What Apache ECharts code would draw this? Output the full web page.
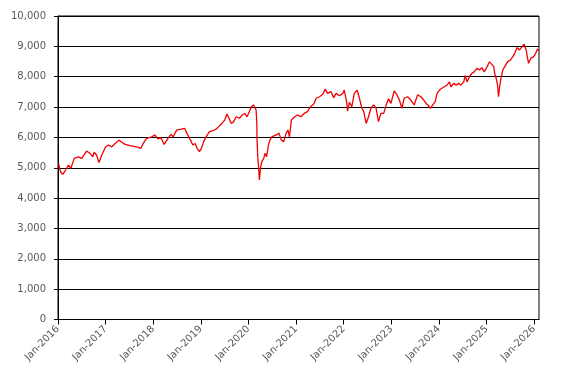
<!DOCTYPE html>
<html><head><meta charset="utf-8">
<script src="https://cdn.jsdelivr.net/npm/echarts@6/dist/echarts.min.js"></script>
<style>html,body{margin:0;padding:0;background:#fff}#c{width:567px;height:383px}</style>
</head><body><div id="c"></div>
<script>
// decimal-year dates and values
const years = [2016.01,2016.04,2016.06,2016.10,2016.15,2016.22,2016.27,2016.34,2016.43,2016.50,2016.60,2016.67,2016.73,2016.76,2016.81,2016.86,2016.92,
2017.00,2017.06,2017.13,2017.20,2017.28,2017.34,2017.41,2017.51,2017.65,2017.74,2017.79,2017.86,2017.97,
2018.03,2018.10,2018.16,2018.23,2018.31,2018.37,2018.42,2018.49,2018.52,2018.59,2018.66,2018.69,2018.76,2018.80,2018.83,2018.88,2018.92,2018.97,
2019.01,2019.06,2019.11,2019.18,2019.25,2019.32,2019.39,2019.44,2019.50,2019.55,2019.59,2019.64,2019.69,2019.74,2019.81,2019.87,2019.92,2019.97,
2020.02,2020.06,2020.11,2020.14,2020.16,2020.175,2020.18,2020.195,2020.215,2020.23,2020.25,2020.28,2020.32,2020.35,2020.38,2020.42,2020.45,2020.49,2020.53,2020.58,2020.64,2020.69,2020.74,2020.79,2020.83,2020.86,2020.90,2020.97,
2021.03,2021.10,2021.17,2021.24,2021.30,2021.37,2021.42,2021.49,2021.56,2021.61,2021.66,2021.73,2021.79,2021.84,2021.91,2021.98,
2022.01,2022.06,2022.08,2022.12,2022.17,2022.22,2022.28,2022.33,2022.38,2022.42,2022.47,2022.52,2022.57,2022.63,2022.68,2022.73,2022.78,2022.84,2022.89,2022.94,2022.99,
2023.06,2023.12,2023.17,2023.22,2023.27,2023.34,2023.41,2023.48,2023.52,2023.55,2023.62,2023.68,2023.73,2023.78,2023.82,2023.87,2023.92,2023.96,
2024.01,2024.06,2024.11,2024.17,2024.22,2024.25,2024.31,2024.36,2024.41,2024.46,2024.52,2024.55,2024.59,2024.64,2024.69,2024.74,2024.80,2024.85,2024.90,2024.95,
2025.01,2025.06,2025.10,2025.15,2025.17,2025.20,2025.23,2025.25,2025.27,2025.30,2025.34,2025.38,2025.44,2025.50,2025.55,2025.59,2025.64,2025.69,2025.73,2025.79,2025.83,2025.88,2025.93,2025.99,
2026.03,2026.07,2026.10];
const values = [5150,4950,4850,4780,4900,5090,4980,5310,5360,5310,5550,5475,5360,5510,5420,5170,5420,
5690,5750,5690,5800,5910,5840,5770,5730,5690,5640,5800,5970,6020,
6080,5950,5990,5770,5970,6100,6020,6240,6240,6270,6300,6190,5970,5860,5750,5800,5640,5530,
5640,5860,6020,6190,6220,6270,6380,6460,6570,6770,6630,6460,6520,6680,6630,6740,6790,6680,
6850,7010,7070,7120,6900,6460,5910,5360,4930,4600,4980,5200,5310,5480,5360,5750,5910,6020,5970,6080,6140,5910,5860,6140,6240,6020,6570,6680,
6740,6680,6790,6850,7010,7090,7290,7340,7420,7590,7450,7510,7310,7450,7370,7450,
7560,7180,6870,7160,7010,7450,7560,7290,6960,6850,6460,6680,6960,7070,6960,6520,6790,6790,7070,7270,7120,
7530,7400,7230,6960,7290,7340,7230,7070,7010,7400,7340,7230,7120,7050,6960,7070,7180,7450,
7560,7620,7670,7720,7830,7670,7780,7720,7780,7720,7830,8040,7830,8000,8110,8160,8280,8220,8300,8160,
8330,8490,8520,8330,8110,7950,7720,7340,7620,7950,8220,8330,8490,8550,8660,8770,8960,8880,8960,9070,8880,8440,8610,8660,
8770,8910,8840];
const tickYears = [2016,2017,2018,2019,2020,2021,2022,2023,2024,2025,2026];

const chart = echarts.init(document.getElementById('c'), null, {renderer:'canvas'});
const font = 'DejaVu Sans';
chart.setOption({
  animation:false,
  grid:{left:58,top:16,right:28,bottom:63.5,show:true,borderColor:'#000',borderWidth:1,backgroundColor:'transparent'},
  xAxis:{
    type:'value', min:2016, max:2026.10, interval:1,
    axisLine:{lineStyle:{color:'#000',width:1}},
    axisTick:{show:true,length:5,lineStyle:{color:'#000'},customValues:tickYears},
    axisLabel:{rotate:45,margin:8,color:'#595959',fontFamily:font,fontSize:10,customValues:tickYears,
      formatter:function(v){return 'Jan-' + Math.round(v);}},
    splitLine:{show:false}
  },
  yAxis:{
    type:'value', min:0, max:10000, interval:1000,
    axisLine:{show:true,lineStyle:{color:'#000',width:1}},
    axisTick:{show:true,length:4,lineStyle:{color:'#000'}},
    axisLabel:{margin:12,color:'#595959',fontFamily:font,fontSize:10,
      formatter:function(v){return v.toLocaleString('en-US');}},
    splitLine:{show:true,lineStyle:{color:'#000',width:1}}
  },
  series:[{type:'line',data:years.map((y,i)=>[y,values[i]]),showSymbol:false,symbol:'none',
    lineStyle:{color:'#f00000',width:1.3},itemStyle:{color:'#f00000'}}]
});
</script></body></html>
